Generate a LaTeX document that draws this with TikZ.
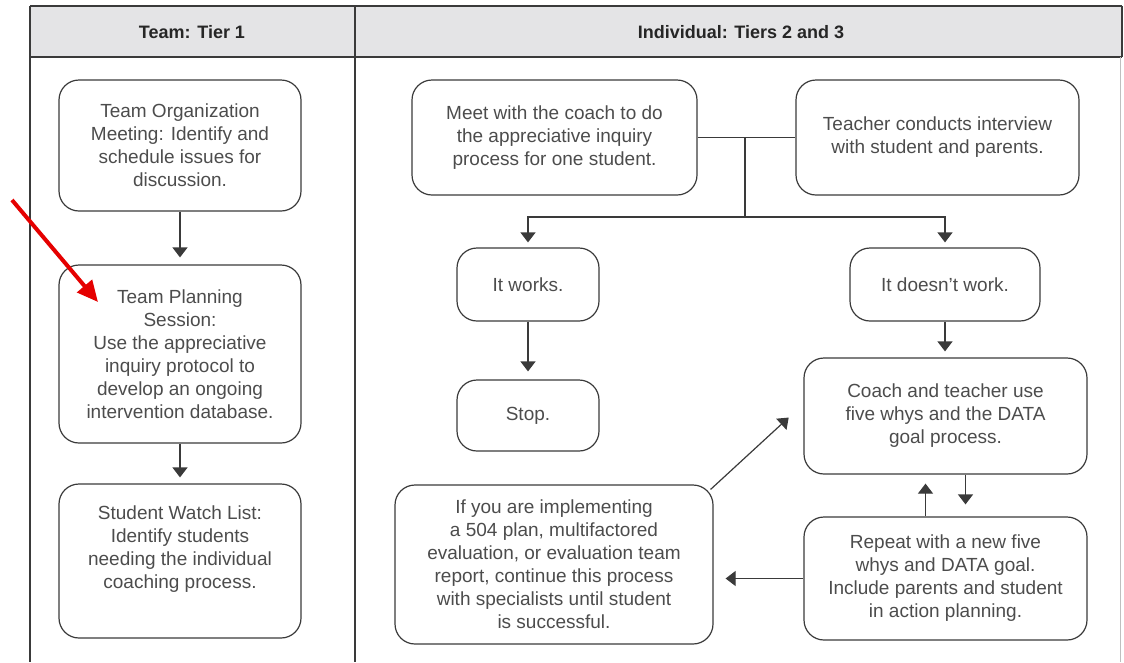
\documentclass[tikz,border=0pt]{standalone}
\usepackage{fontspec}
\setmainfont{Liberation Sans}
\usetikzlibrary{arrows.meta}
\definecolor{ink}{HTML}{3A3A3A}
\definecolor{txt}{HTML}{4C4C4C}
\definecolor{headfill}{HTML}{E4E4E6}
\tikzset{
  stepbox/.style={draw=ink, line width=1.2pt, rounded corners=20pt, align=center,
    text=txt, font=\fontsize{19}{23}\selectfont, inner sep=0pt},
  flow/.style={draw=ink, line width=1.2pt, -{Triangle[length=10pt,width=15pt]}},
  rule/.style={draw=ink, line width=1.6pt},
  headtext/.style={font=\bfseries\fontsize{18}{20}\selectfont, text=black!85}
}
\begin{document}
\begin{tikzpicture}[x=1pt,y=-1pt]
\useasboundingbox (0,0) rectangle (1124,662);
% table frame and header
\fill[headfill] (30,6) rectangle (1122,57);
\draw[rule] (30,6) -- (1122,6);
\draw[rule] (30,57) -- (1122,57);
\draw[rule] (30,6) -- (30,662);
\draw[rule] (355,6) -- (355,662);
\draw[rule] (1122,6) -- (1122,57);
\draw[black!25, line width=1pt] (1120,57) -- (1120,662);
\node[headtext] (h1) at (192,32) {Team: Tier 1};
\node[headtext] (h2) at (741,32) {Individual: Tiers 2 and 3};

% Tier 1 column
\node[stepbox, minimum width=242pt, minimum height=131pt] (org) at (180,145.5)
  {Team Organization\\Meeting: Identify and\\schedule issues for\\discussion.};
\node[stepbox, minimum width=242pt, minimum height=178pt] (plan) at (180,354)
  {Team Planning\\Session:\\Use the appreciative\\inquiry protocol to\\develop an ongoing\\intervention database.};
\node[stepbox, minimum width=242pt, minimum height=154pt, text depth=0pt] (watch) at (180,561)
  {Student Watch List:\\Identify students\\needing the individual\\coaching process.\\[5pt]};
\draw[flow, shorten >=7pt] (org.south) -- (plan.north);
\draw[flow, shorten >=6pt] (plan.south) -- (watch.north);

% Tiers 2 and 3 column
\node[stepbox, minimum width=285pt, minimum height=115pt] (meet) at (554.5,137.5)
  {Meet with the coach to do\\the appreciative inquiry\\process for one student.};
\node[stepbox, minimum width=283pt, minimum height=115pt] (teacher) at (937.5,137.5)
  {Teacher conducts interview\\with student and parents.};
\node[stepbox, minimum width=142pt, minimum height=73pt] (works) at (528,284.5) {It works.};
\node[stepbox, minimum width=190pt, minimum height=73pt] (notwork) at (945,284.5) {It doesn't work.};
\node[stepbox, minimum width=142pt, minimum height=71pt] (stop) at (528,415.5) {Stop.};
\node[stepbox, minimum width=283pt, minimum height=116pt] (coach) at (945.5,416)
  {Coach and teacher use\\five whys and the DATA\\goal process.};
\node[stepbox, minimum width=283pt, minimum height=123pt] (repeat) at (945.5,578.5)
  {Repeat with a new five\\whys and DATA goal.\\Include parents and student\\in action planning.};
\node[stepbox, minimum width=318pt, minimum height=159pt] (ifyou) at (554,564.5)
  {If you are implementing\\a 504 plan, multifactored\\evaluation, or evaluation team\\report, continue this process\\with specialists until student\\is successful.};

% split below the two starting boxes
\coordinate (jt) at (745,137.5);
\coordinate (jb) at (745,217);
\draw[ink, line width=1.2pt] (meet.east) -- (teacher.west);
\draw[ink, line width=1.2pt] (jt) -- (jb);
\draw[flow, shorten >=5pt] (jb) -| (works.north);
\draw[flow, shorten >=5pt] (jb) -| (notwork.north);
\draw[flow, shorten >=8pt] (works.south) -- (stop.north);
\draw[flow, shorten >=6pt] (notwork.south) -- (notwork.south |- coach.north);
\draw[flow, shorten >=12pt] ([xshift=20pt]coach.south) -- ([xshift=20pt]repeat.north);
\draw[flow, shorten >=9pt] ([xshift=-20pt]repeat.north) -- ([xshift=-20pt]coach.south);
\draw[flow, shorten >=12pt] (repeat.west) -- (repeat.west -| ifyou.east);
\draw[flow, shorten >=20pt] ([xshift=-3pt,yshift=-5pt]ifyou.north east) -- ([yshift=12pt]coach.west);

% highlight marker
\coordinate (mk) at (12,200);
\coordinate (mkend) at (98,302);
\draw[red!90!black, line width=4pt, -{Triangle[length=21pt,width=19pt]}] (mk) -- (mkend);
\end{tikzpicture}
\end{document}
